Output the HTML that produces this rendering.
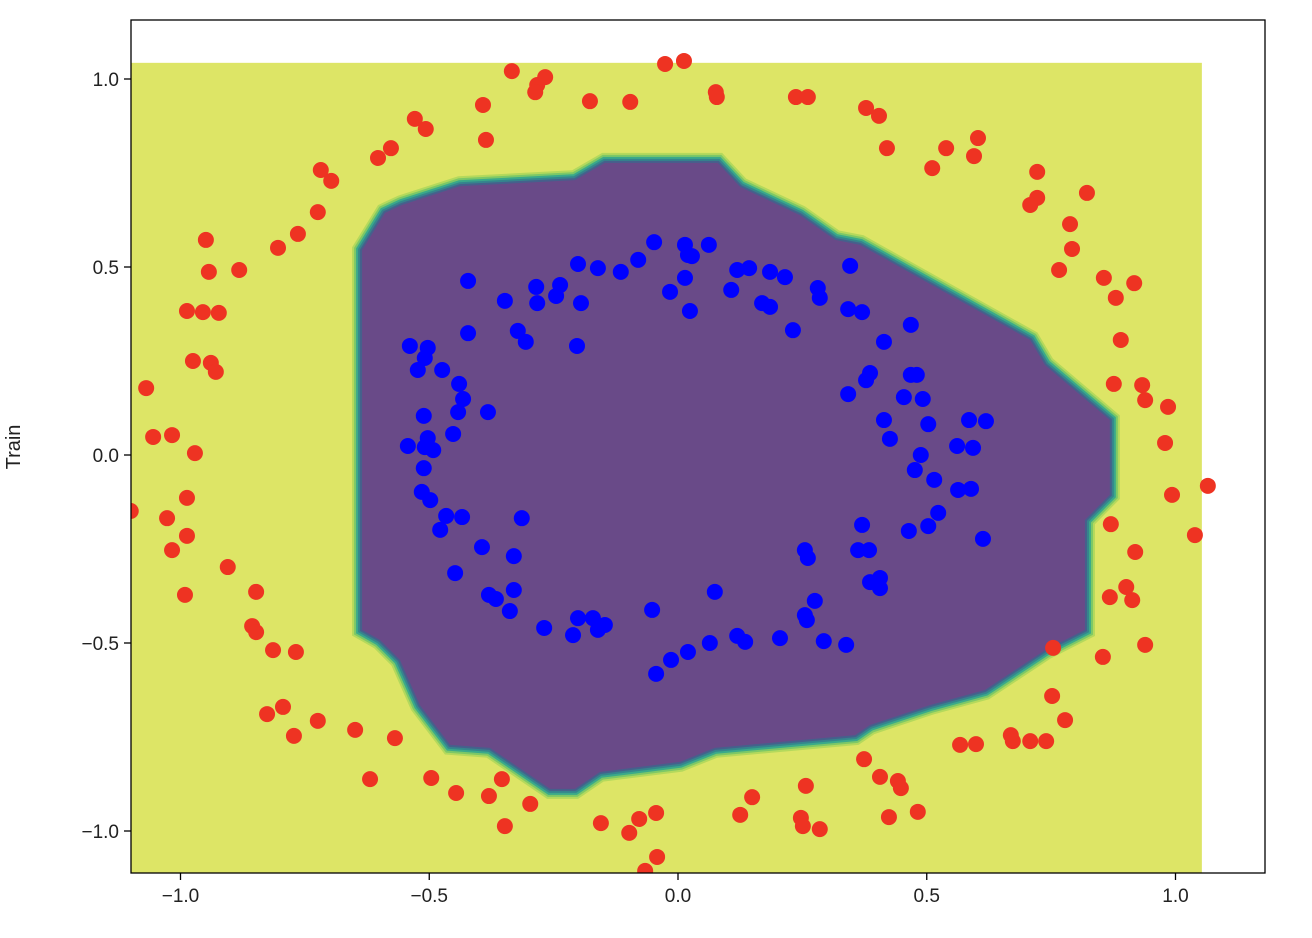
<!DOCTYPE html>
<html><head><meta charset="utf-8"><style>
body{margin:0;background:#fff;}
svg{display:block;font-family:"Liberation Sans","DejaVu Sans",sans-serif;}
</style></head><body>
<svg id="chart" width="1312" height="938"></svg>
<script>
const xTicks=[-1.0,-0.5,0.0,0.5,1.0];
const yTicks=[-1.0,-0.5,0.0,0.5,1.0];
const tickLabels=["−1.0","−0.5","0.0","0.5","1.0"];
const regionX=[-0.635,-0.589,-0.555,-0.438,-0.207,-0.147,0.080,0.125,0.245,0.316,0.366,0.708,0.738,0.868,0.868,0.818,0.818,0.738,0.617,0.507,0.386,0.356,0.074,0.004,-0.157,-0.207,-0.257,-0.328,-0.378,-0.458,-0.519,-0.559,-0.599,-0.635];
const regionY=[0.545,0.644,0.665,0.715,0.731,0.777,0.777,0.713,0.638,0.572,0.559,0.306,0.239,0.093,-0.106,-0.173,-0.465,-0.519,-0.625,-0.665,-0.718,-0.745,-0.779,-0.816,-0.843,-0.888,-0.888,-0.824,-0.779,-0.771,-0.665,-0.545,-0.492,-0.465];
const redX=[-0.334,-0.267,-0.283,-0.287,-0.392,-0.177,-0.096,-0.026,0.012,0.076,0.078,0.237,0.261,0.378,0.404,0.420,-0.529,-0.507,-0.386,-0.603,-0.577,-0.718,-0.697,-0.724,-0.804,-0.764,-0.949,-0.943,-0.882,-0.987,-0.955,-0.923,-0.975,-0.939,-0.929,-1.069,-1.055,-1.017,-0.971,-0.987,-1.027,-1.017,-0.987,-1.100,-0.991,-0.905,-0.848,-0.856,-0.848,-0.814,-0.768,-0.826,-0.794,-0.772,-0.724,-0.649,-0.569,-0.619,-0.496,-0.354,-0.446,-0.380,-0.297,-0.348,-0.155,-0.098,-0.078,-0.044,-0.042,-0.066,0.125,0.149,0.257,0.374,0.406,0.442,0.448,0.482,0.424,0.247,0.251,0.285,0.567,0.599,0.669,0.673,0.708,0.740,0.778,0.752,0.754,0.854,0.939,0.913,0.868,0.901,0.919,0.870,0.993,1.039,1.065,0.979,0.985,0.939,0.933,0.876,0.890,0.880,0.917,0.856,0.766,0.792,0.788,0.822,0.722,0.708,0.722,0.603,0.539,0.595,0.511];
const redY=[1.021,1.005,0.984,0.965,0.931,0.941,0.939,1.040,1.048,0.965,0.952,0.952,0.952,0.923,0.902,0.816,0.894,0.867,0.838,0.790,0.816,0.758,0.729,0.646,0.551,0.588,0.572,0.487,0.492,0.383,0.380,0.378,0.250,0.245,0.221,0.178,0.048,0.053,0.005,-0.114,-0.168,-0.253,-0.215,-0.149,-0.372,-0.298,-0.364,-0.455,-0.471,-0.519,-0.524,-0.689,-0.670,-0.747,-0.707,-0.731,-0.753,-0.862,-0.859,-0.862,-0.899,-0.907,-0.928,-0.987,-0.979,-1.005,-0.968,-0.952,-1.069,-1.106,-0.957,-0.910,-0.880,-0.809,-0.856,-0.867,-0.886,-0.949,-0.963,-0.965,-0.987,-0.995,-0.771,-0.769,-0.745,-0.761,-0.761,-0.761,-0.705,-0.641,-0.513,-0.537,-0.505,-0.386,-0.378,-0.351,-0.258,-0.184,-0.106,-0.213,-0.082,0.032,0.128,0.146,0.186,0.189,0.306,0.418,0.457,0.471,0.492,0.548,0.614,0.697,0.684,0.665,0.753,0.843,0.816,0.795,0.763];
const blueX=[-0.422,-0.348,-0.285,-0.245,-0.237,-0.195,-0.161,-0.201,-0.115,-0.080,-0.048,-0.016,0.020,0.014,0.028,0.014,0.062,0.024,0.107,0.119,0.143,0.185,0.215,0.169,0.185,0.231,0.281,0.285,0.346,0.342,0.370,0.468,0.414,0.386,0.378,0.342,0.468,0.454,0.480,0.492,0.503,0.414,0.426,0.561,0.585,0.619,0.593,0.476,0.488,0.515,0.523,0.503,0.464,0.563,0.589,0.613,0.370,0.362,0.384,0.406,0.386,0.406,0.255,0.261,0.275,0.255,0.259,0.293,0.338,0.205,0.135,0.119,0.064,0.074,0.020,-0.014,-0.044,-0.052,-0.171,-0.147,-0.161,-0.201,-0.211,-0.269,-0.314,-0.330,-0.330,-0.380,-0.366,-0.338,-0.448,-0.394,-0.434,-0.466,-0.478,-0.503,-0.515,-0.498,-0.543,-0.509,-0.492,-0.511,-0.511,-0.523,-0.539,-0.509,-0.503,-0.474,-0.440,-0.432,-0.442,-0.452,-0.382,-0.203,-0.322,-0.306,-0.422,-0.283];
const blueY=[0.463,0.410,0.447,0.423,0.452,0.404,0.497,0.508,0.487,0.519,0.566,0.434,0.532,0.559,0.529,0.471,0.559,0.383,0.439,0.492,0.497,0.487,0.473,0.404,0.394,0.332,0.444,0.418,0.503,0.388,0.380,0.346,0.301,0.218,0.199,0.162,0.213,0.154,0.213,0.149,0.082,0.093,0.043,0.024,0.093,0.090,0.019,-0.040,0.000,-0.066,-0.154,-0.189,-0.202,-0.093,-0.090,-0.223,-0.186,-0.253,-0.253,-0.327,-0.338,-0.354,-0.253,-0.274,-0.388,-0.426,-0.439,-0.495,-0.505,-0.487,-0.497,-0.481,-0.500,-0.364,-0.524,-0.545,-0.582,-0.412,-0.434,-0.452,-0.465,-0.434,-0.479,-0.460,-0.168,-0.269,-0.359,-0.372,-0.383,-0.415,-0.314,-0.245,-0.165,-0.162,-0.199,0.045,-0.098,-0.120,0.024,0.021,0.013,-0.035,0.104,0.226,0.290,0.258,0.285,0.226,0.189,0.149,0.114,0.056,0.114,0.290,0.330,0.301,0.324,0.404];

const L=131,R=1265,T=20,B=873;
const X=v=>678+v*497.5;
const Y=v=>455-v*376;
const NS="http://www.w3.org/2000/svg";
const svg=document.getElementById('chart');
function mk(tag,attrs,parent){const e=document.createElementNS(NS,tag);for(const k in attrs)e.setAttribute(k,attrs[k]);(parent||svg).appendChild(e);return e;}
const defs=mk('defs',{});
const cp=mk('clipPath',{id:'clip'},defs);mk('rect',{x:L,y:T,width:R-L,height:B-T},cp);
const plot=mk('g',{'clip-path':'url(#clip)'});


const bg=mk('rect',{x:L,y:Y(1.043),width:X(1.053)-L,height:B-Y(1.043),fill:'#dde566'},plot);


const pts=regionX.map((v,i)=>X(v)+','+Y(regionY[i])).join(' ');
[[20,'#b4d95c'],[16,'#7cc867'],[12,'#3aa98a'],[8,'#35858d'],[4,'#46608c']].forEach(([w,c])=>{
  const p=mk('polygon',{points:pts,fill:'none',stroke:c,'stroke-width':w,'stroke-linejoin':'miter'},plot);
  
  
});
const reg=mk('polygon',{points:pts,fill:'#694a88'},plot);


redX.forEach((v,i)=>{const c=mk('circle',{cx:X(v),cy:Y(redY[i]),r:8,fill:'#ee3322'},plot);
  
  });
blueX.forEach((v,i)=>{const c=mk('circle',{cx:X(v),cy:Y(blueY[i]),r:8,fill:'#0000ff'},plot);
  
  });
const frame=mk('rect',{x:L,y:T,width:R-L,height:B-T,fill:'none',stroke:'#000','stroke-width':1.3});


xTicks.forEach((v,i)=>{
  const l=mk('line',{x1:X(v),x2:X(v),y1:B,y2:B+7,stroke:'#000','stroke-width':1.3});
  
  
  const t=mk('text',{x:X(v),y:B+29,'text-anchor':'middle','font-size':19,fill:'#222'});
  t.textContent=tickLabels[i];
  
  
});
yTicks.forEach((v,i)=>{
  const l=mk('line',{x1:L-7,x2:L,y1:Y(v),y2:Y(v),stroke:'#000','stroke-width':1.3});
  
  
  const t=mk('text',{x:L-12,y:Y(v)+7,'text-anchor':'end','font-size':19,fill:'#222'});
  t.textContent=tickLabels[i];
  
  
});
const yt=mk('text',{x:20,y:447,'text-anchor':'middle','font-size':20,fill:'#222',transform:'rotate(-90 20 447)'});
yt.textContent='Train';


</script>
</body></html>
